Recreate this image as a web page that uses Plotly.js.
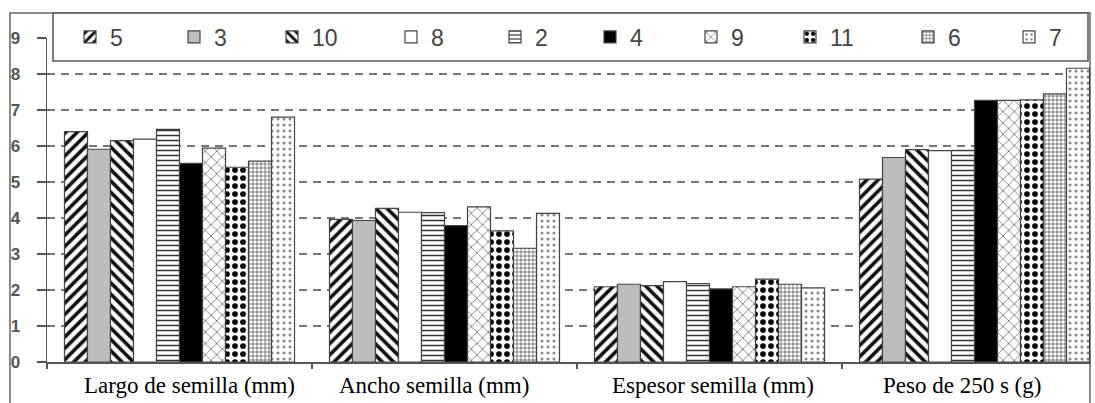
<!DOCTYPE html>
<html>
<head>
<meta charset="utf-8">
<script src="https://cdn.plot.ly/plotly-3.0.1.min.js"></script>
<style>html,body{margin:0;padding:0;background:#fff;}#chart{width:1095px;height:403px;}</style>
</head>
<body>
<div id="chart"></div>
<script>
// Categories (x axis)
const categories = ['Largo de semilla (mm)', 'Ancho semilla (mm)', 'Espesor semilla (mm)', 'Peso de 250 s (g)'];
// Series names (legend order)
const seriesNames = ['5', '3', '10', '8', '2', '4', '9', '11', '6', '7'];
// Values per category, in series order
const largo   = [6.40, 5.91, 6.15, 6.19, 6.46, 5.52, 5.94, 5.41, 5.58, 6.80];
const ancho   = [3.96, 3.93, 4.27, 4.16, 4.15, 3.79, 4.31, 3.64, 3.16, 4.13];
const espesor = [2.09, 2.16, 2.12, 2.23, 2.18, 2.03, 2.09, 2.30, 2.16, 2.06];
const peso    = [5.08, 5.68, 5.90, 5.87, 5.88, 7.27, 7.27, 7.28, 7.45, 8.16];
// Y tick values
const yTicks = [0, 1, 2, 3, 4, 5, 6, 7, 8, 9];

// Styles per series (fill / pattern / legend entry width in px)
const styles = [
  {color: '#ffffff', lw: 59, pattern: {shape: '/', fgcolor: '#111', bgcolor: '#fff', size: 8, solidity: 0.45}},
  {color: '#bdbdbd', lw: 53, pattern: {shape: ''}},
  {color: '#ffffff', lw: 74, pattern: {shape: '\\', fgcolor: '#111', bgcolor: '#fff', size: 8, solidity: 0.45}},
  {color: '#ffffff', lw: 59, pattern: {shape: ''}},
  {color: '#ffffff', lw: 50, pattern: {shape: '-', fgcolor: '#333', bgcolor: '#fff', size: 5, solidity: 0.3}},
  {color: '#000000', lw: 56, pattern: {shape: ''}},
  {color: '#ffffff', lw: 54, pattern: {shape: 'x', fgcolor: '#777', bgcolor: '#fff', size: 8, solidity: 0.2}},
  {color: '#ffffff', lw: 73, pattern: {shape: '.', fgcolor: '#000', bgcolor: '#fff', size: 8, solidity: 0.4}},
  {color: '#ffffff', lw: 56, pattern: {shape: '+', fgcolor: '#444', bgcolor: '#fff', size: 4, solidity: 0.3}},
  {color: '#ffffff', lw: 20, pattern: {shape: '.', fgcolor: '#888', bgcolor: '#fff', size: 6, solidity: 0.2}}
];

const groups = [largo, ancho, espesor, peso];
const traces = seriesNames.map((name, i) => ({
  type: 'bar',
  name: name,
  x: categories,
  y: groups.map(g => g[i]),
  legendwidth: styles[i].lw,
  marker: {
    color: styles[i].color,
    pattern: styles[i].pattern,
    line: {color: '#444', width: 1.2}
  },
  hoverinfo: 'skip'
}));

// label offsets (px) as in original layout
const labelShift = [10, -11, 3, -13];
const annotations = categories.map((c, i) => ({
  x: c, xref: 'x', y: 0, yref: 'paper', yanchor: 'top', xanchor: 'center',
  yshift: -9, xshift: labelShift[i], showarrow: false, text: c,
  font: {family: 'Liberation Serif, Times New Roman, serif', size: 23, color: '#000'}
}));

const W = 1044, H = 324, L = 47, T = 38;
const px = v => (v - L) / W;
const py = v => (T + H - v) / H;

const layout = {
  width: 1095, height: 403,
  margin: {l: L, r: 4, t: T, b: 41, pad: 0},
  paper_bgcolor: '#ffffff', plot_bgcolor: '#ffffff',
  barmode: 'group', bargap: 0.132, bargroupgap: 0,
  showlegend: true,
  legend: {
    orientation: 'h', x: px(70), xanchor: 'left', y: py(37), yanchor: 'middle',
    font: {family: 'Liberation Sans, Arial, sans-serif', size: 23, color: '#444'},
    bgcolor: 'rgba(0,0,0,0)', borderwidth: 0, traceorder: 'normal'
  },
  xaxis: {
    type: 'category', range: [-0.5, -0.5 + W / 265],
    showline: true, linecolor: '#555', linewidth: 1.5,
    ticks: 'outside', tickson: 'boundaries', ticklen: 5, tickcolor: '#555', tickwidth: 1.5,
    showticklabels: false, showgrid: false, zeroline: false, fixedrange: true
  },
  yaxis: {
    range: [0, 9], tickvals: yTicks, ticktext: yTicks.map(String),
    showline: true, linecolor: '#555', linewidth: 1.5,
    ticks: 'outside', ticklen: 9, tickcolor: '#555', tickwidth: 1.5, ticklabelstandoff: 13,
    tickfont: {family: 'Liberation Sans, Arial, sans-serif', size: 17, color: '#555', weight: 'bold'},
    showgrid: true, gridcolor: '#777', gridwidth: 2, griddash: '8px,6px',
    zeroline: false, fixedrange: true
  },
  shapes: [
    {type: 'rect', xref: 'paper', yref: 'paper', x0: px(10), x1: px(1090), y0: py(430), y1: py(13),
     line: {color: '#666', width: 1.5}, fillcolor: 'rgba(0,0,0,0)', layer: 'below'},
    {type: 'rect', xref: 'paper', yref: 'paper', x0: px(53), x1: px(1088), y0: py(61), y1: py(13),
     line: {color: '#555', width: 1.5}, fillcolor: '#ffffff', layer: 'above'}
  ],
  annotations: annotations
};

Plotly.newPlot('chart', traces, layout, {displayModeBar: false, staticPlot: true});
</script>
</body>
</html>
